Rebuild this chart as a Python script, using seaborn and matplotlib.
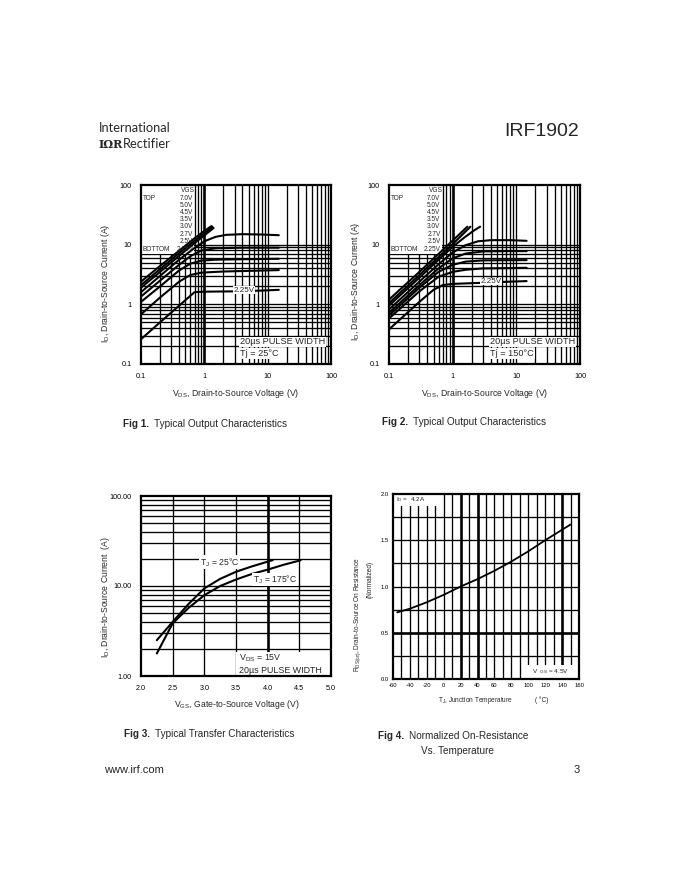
import numpy as np
import pandas as pd
import matplotlib
matplotlib.use("Agg")
import matplotlib.pyplot as plt
import seaborn as sns
from matplotlib.patches import Rectangle

sns.set_style("white")
plt.rcParams['font.family'] = ['Liberation Sans', 'DejaVu Sans']
plt.rcParams['mathtext.fontset'] = 'custom'
plt.rcParams['mathtext.rm'] = 'Liberation Sans'
plt.rcParams['mathtext.it'] = 'Liberation Sans:italic'
plt.rcParams['mathtext.bf'] = 'Liberation Sans:bold'

# ---------------- DATA ----------------
vgs_labels = ['7.0V', '5.0V', '4.5V', '3.5V', '3.0V', '2.7V', '2.5V', '2.25V']

# Fig 1, Tj = 25 C
f1_vds_70 = [0.1, 0.2, 0.4, 0.7, 1.0, 1.3]
f1_id_70 = [2.4, 4.4, 7.9, 12.8, 17.0, 20.5]
f1_vds_50 = [0.1, 0.2, 0.4, 0.7, 1.0, 1.35]
f1_id_50 = [2.1, 3.9, 7.2, 11.6, 15.6, 19.8]
f1_vds_45 = [0.1, 0.2, 0.4, 0.7, 1.0, 1.4]
f1_id_45 = [1.9, 3.5, 6.5, 10.6, 14.3, 19.0]
f1_vds_35 = [0.1, 0.2, 0.4, 0.7, 1.0, 1.5, 2.2, 4.0, 8.0, 15.0]
f1_id_35 = [1.6, 3.0, 5.6, 8.8, 11.4, 13.5, 14.6, 15.0, 14.8, 14.4]
f1_vds_30 = [0.1, 0.2, 0.4, 0.6, 0.9, 1.5, 4.0, 15.0]
f1_id_30 = [1.35, 2.5, 4.6, 6.4, 8.0, 8.7, 8.9, 8.9]
f1_vds_27 = [0.1, 0.2, 0.4, 0.6, 0.9, 1.5, 4.0, 15.0]
f1_id_27 = [1.1, 2.0, 3.7, 4.8, 5.4, 5.6, 5.7, 5.8]
f1_vds_25 = [0.1, 0.2, 0.4, 0.6, 0.9, 2.0, 6.0, 15.0]
f1_id_25 = [0.68, 1.3, 2.4, 3.1, 3.4, 3.55, 3.65, 3.75]
f1_vds_225 = [0.1, 0.2, 0.4, 0.7, 1.0, 3.0, 8.0, 15.0]
f1_id_225 = [0.26, 0.5, 0.95, 1.6, 1.63, 1.65, 1.7, 1.75]

# Fig 2, Tj = 150 C
f2_vds_70 = [0.1, 0.3, 0.6, 1.0, 1.7]
f2_id_70 = [1.2, 3.5, 7.0, 11.7, 20.0]
f2_vds_50 = [0.1, 0.3, 0.6, 1.0, 1.9]
f2_id_50 = [1.05, 3.1, 6.2, 10.2, 20.0]
f2_vds_45 = [0.1, 0.3, 0.6, 1.0, 1.5, 2.2, 2.7]
f2_id_45 = [0.95, 2.8, 5.6, 9.2, 13.0, 17.5, 20.0]
f2_vds_35 = [0.1, 0.3, 0.6, 1.0, 1.6, 2.5, 4.0, 8.0, 14.5]
f2_id_35 = [0.82, 2.4, 4.7, 7.4, 9.8, 11.4, 11.9, 11.9, 11.6]
f2_vds_30 = [0.1, 0.3, 0.6, 1.0, 1.6, 3.0, 8.0, 14.5]
f2_id_30 = [0.72, 2.1, 4.0, 5.9, 7.1, 7.7, 7.8, 7.8]
f2_vds_27 = [0.1, 0.3, 0.6, 1.0, 1.6, 3.0, 8.0, 14.5]
f2_id_27 = [0.65, 1.9, 3.5, 4.6, 5.2, 5.45, 5.5, 5.5]
f2_vds_25 = [0.1, 0.3, 0.6, 1.0, 1.6, 3.0, 8.0, 14.5]
f2_id_25 = [0.58, 1.65, 2.9, 3.5, 3.8, 4.0, 4.05, 4.1]
f2_vds_225 = [0.1, 0.3, 0.5, 0.7, 1.0, 3.0, 8.0, 14.5]
f2_id_225 = [0.38, 1.1, 1.75, 2.1, 2.2, 2.3, 2.4, 2.45]

# Fig 3, transfer characteristics
f3_vgs_25 = [2.25, 2.5, 2.75, 3.0, 3.25, 3.5, 3.75, 4.08]
f3_id_25 = [2.5, 4.0, 6.3, 9.4, 12.0, 14.4, 16.5, 19.4]
f3_vgs_175 = [2.25, 2.5, 2.75, 3.0, 3.25, 3.5, 3.75, 4.0, 4.25, 4.52]
f3_id_175 = [1.78, 3.85, 5.7, 7.9, 10.0, 11.8, 13.6, 15.2, 17.2, 19.3]

# Fig 4, normalized RDS(on) vs temperature
f4_tj = [-55, -40, -20, 0, 20, 40, 60, 80, 100, 120, 150]
f4_rds = [0.72, 0.76, 0.83, 0.91, 1.0, 1.08, 1.17, 1.27, 1.38, 1.5, 1.67]

log_ticks = [0.1, 1, 10, 100]
log_tick_labels = ['0.1', '1', '10', '100']
f3_xticks = [2.0, 2.5, 3.0, 3.5, 4.0, 4.5, 5.0]
f3_xtick_labels = ['2.0', '2.5', '3.0', '3.5', '4.0', '4.5', '5.0']
f3_yticks = [1, 10, 100]
f3_ytick_labels = ['1.00', '10.00', '100.00']
f4_xticks = [-60, -40, -20, 0, 20, 40, 60, 80, 100, 120, 140, 160]
f4_yticks = [0.0, 0.5, 1.0, 1.5, 2.0]

# ---------------- FRAMES ----------------
def frame(xs_list, ys_list, labels, xname, yname):
    parts = []
    for xs, ys, lab in zip(xs_list, ys_list, labels):
        parts.append(pd.DataFrame({xname: xs, yname: ys, 'curve': lab}))
    return pd.concat(parts, ignore_index=True)

df1 = frame([f1_vds_70, f1_vds_50, f1_vds_45, f1_vds_35, f1_vds_30, f1_vds_27, f1_vds_25, f1_vds_225],
            [f1_id_70, f1_id_50, f1_id_45, f1_id_35, f1_id_30, f1_id_27, f1_id_25, f1_id_225],
            vgs_labels, 'vds', 'id')
df2 = frame([f2_vds_70, f2_vds_50, f2_vds_45, f2_vds_35, f2_vds_30, f2_vds_27, f2_vds_25, f2_vds_225],
            [f2_id_70, f2_id_50, f2_id_45, f2_id_35, f2_id_30, f2_id_27, f2_id_25, f2_id_225],
            vgs_labels, 'vds', 'id')
df3 = frame([f3_vgs_25, f3_vgs_175], [f3_id_25, f3_id_175], ['25', '175'], 'vgs', 'id')
df4 = pd.DataFrame({'tj': f4_tj, 'rds': f4_rds})

# ---------------- FIGURE ----------------
W, H = 680, 880
fig = plt.figure(figsize=(6.8, 8.8), dpi=100)

def px_axes(left, top, right, bottom):
    return fig.add_axes([left / W, 1 - bottom / H, (right - left) / W, (bottom - top) / H])

def ftext(x, y, s, **kw):
    fig.text(x / W, 1 - y / H, s, **kw)

GL = 0.95  # grid line width
TH = 1.9   # thick grid line width

def log_lines(lo, hi):
    vals = []
    for e in range(lo, hi):
        for k in range(1, 10):
            vals.append(k * 10.0 ** e)
    vals.append(10.0 ** hi)
    return vals

def style_axes(ax, fs, pad):
    for sp in ax.spines.values():
        sp.set_linewidth(1.6)
        sp.set_color('black')
        sp.set_zorder(6)
    ax.tick_params(which='both', length=0, labelsize=fs, pad=pad, colors='black')

def output_chart(ax, df, legend_right, title_x):
    ax.set_xscale('log')
    ax.set_yscale('log')
    ax.set_xlim(0.1, 100)
    ax.set_ylim(0.1, 100)
    for x in log_lines(-1, 2)[1:-1]:
        ax.axvline(x, color='black', lw=TH if x == 1 else GL, zorder=1)
    for y in log_lines(-1, 1)[1:]:
        ax.axhline(y, color='black', lw=GL, zorder=1)
    ax.add_patch(Rectangle((0, 0.615), legend_right + 0.005, 0.39, transform=ax.transAxes,
                           facecolor='white', edgecolor='none', zorder=2))
    sns.lineplot(data=df, x='vds', y='id', units='curve', estimator=None, color='black',
                 lw=1.5, ax=ax, legend=False, sort=False, zorder=3)
    ax.set_xticks(log_ticks)
    ax.set_xticklabels(log_tick_labels)
    ax.set_yticks(log_ticks)
    ax.set_yticklabels(log_tick_labels)
    ax.minorticks_off()
    ax.set_xlabel('')
    ax.set_ylabel('')
    style_axes(ax, 5.2, 6.5)
    fs = 4.7
    ax.text(legend_right + 0.01, 0.972, 'VGS', transform=ax.transAxes, ha='right', va='center', fontsize=fs, zorder=4)
    ax.text(0.01, 0.927, 'TOP', transform=ax.transAxes, ha='left', va='center', fontsize=fs, zorder=4)
    ax.text(0.01, 0.637, 'BOTTOM', transform=ax.transAxes, ha='left', va='center', fontsize=fs, zorder=4)
    ys = [0.927, 0.885, 0.849, 0.808, 0.766, 0.722, 0.682, 0.637]
    for lab, y in zip(vgs_labels, ys):
        ax.text(legend_right, y, lab, transform=ax.transAxes, ha='right', va='center', fontsize=fs, zorder=4)
    bb = dict(facecolor='white', edgecolor='none', pad=0.6)
    ax.text(title_x, 0.123, '20µs PULSE WIDTH', transform=ax.transAxes, ha='left', va='center',
            fontsize=6.6, zorder=5, bbox=bb)

ax1 = px_axes(141, 185, 331, 364)
output_chart(ax1, df1, 0.275, 0.52)
ax1.text(0.52, 0.06, 'Tj = 25°C', transform=ax1.transAxes, ha='left', va='center', fontsize=6.6,
         zorder=5, bbox=dict(facecolor='white', edgecolor='none', pad=0.6))
ax1.text(2.9, 1.72, '2.25V', ha='left', va='center', fontsize=5.8, zorder=5,
         bbox=dict(facecolor='white', edgecolor='none', pad=0.3))

ax2 = px_axes(389, 185, 580, 364)
output_chart(ax2, df2, 0.27, 0.53)
ax2.text(0.53, 0.06, 'Tj = 150°C', transform=ax2.transAxes, ha='left', va='center', fontsize=6.6,
         zorder=5, bbox=dict(facecolor='white', edgecolor='none', pad=0.6))
ax2.text(2.75, 2.42, '2.25V', ha='left', va='center', fontsize=5.8, zorder=5,
         bbox=dict(facecolor='white', edgecolor='none', pad=0.3))

# ---- Fig 3 ----
ax3 = px_axes(141, 496, 331, 676)
ax3.set_yscale('log')
ax3.set_xlim(2.0, 5.0)
ax3.set_ylim(1, 100)
for y in log_lines(0, 2)[1:-1]:
    ax3.axhline(y, color='black', lw=GL, zorder=1)
for x in f3_xticks[1:-1]:
    ax3.axvline(x, color='black', lw=TH if x == 4.0 else GL, zorder=1)
ax3.add_patch(Rectangle((0.5, 0), 0.5, 0.135, transform=ax3.transAxes, facecolor='white',
                        edgecolor='none', zorder=2))
sns.lineplot(data=df3, x='vgs', y='id', units='curve', estimator=None, color='black',
             lw=1.5, ax=ax3, legend=False, sort=False, zorder=3)
ax3.set_xticks(f3_xticks)
ax3.set_xticklabels(f3_xtick_labels)
ax3.set_yticks(f3_yticks)
ax3.set_yticklabels(f3_ytick_labels)
ax3.minorticks_off()
ax3.set_xlabel('')
ax3.set_ylabel('')
style_axes(ax3, 5.2, 6.5)
bb3 = dict(facecolor='white', edgecolor='none', pad=0.5)
ax3.text(2.93, 18.3, r'T$_\mathrm{J}$ = 25°C', ha='left', va='center', fontsize=6.2, zorder=5, bbox=bb3)
ax3.text(3.77, 11.8, r'T$_\mathrm{J}$ = 175°C', ha='left', va='center', fontsize=6.2, zorder=5, bbox=bb3)
ax3.text(0.515, 0.1, r'V$_\mathrm{DS}$ = 15V', transform=ax3.transAxes, ha='left', va='center', fontsize=6.4, zorder=5)
ax3.text(0.515, 0.033, '20µs PULSE WIDTH', transform=ax3.transAxes, ha='left', va='center', fontsize=6.4, zorder=5)

# ---- Fig 4 ----
ax4 = px_axes(393, 494, 579, 679)
ax4.set_xlim(-60, 160)
ax4.set_ylim(0, 2.0)
for y in [0.25, 0.5, 0.75, 1.0, 1.25, 1.5, 1.75]:
    ax4.axhline(y, color='black', lw=TH if y == 0.5 else GL, zorder=1)
for x in range(-50, 160, 10):
    ax4.axvline(x, color='black', lw=TH if x in (20, 40, 140) else GL, zorder=1)
ax4.add_patch(Rectangle((0, 0.935), 0.26, 0.07, transform=ax4.transAxes, facecolor='white',
                        edgecolor='none', zorder=2))
ax4.add_patch(Rectangle((0.715, 0), 0.285, 0.075, transform=ax4.transAxes, facecolor='white',
                        edgecolor='none', zorder=2))
sns.lineplot(data=df4, x='tj', y='rds', color='black', lw=1.3, ax=ax4, zorder=3)
ax4.set_xticks(f4_xticks)
ax4.set_xticklabels([str(v) for v in f4_xticks])
ax4.set_yticks(f4_yticks)
ax4.set_yticklabels(['%.1f' % v for v in f4_yticks])
ax4.set_xlabel('')
ax4.set_ylabel('')
style_axes(ax4, 4.2, 3)
ax4.text(0.015, 0.97, r'I$_\mathrm{D}$ =  4.2A', transform=ax4.transAxes, ha='left', va='center', fontsize=4.6, zorder=5)
ax4.text(0.75, 0.04, r'V  $_\mathrm{GS}$ = 4.5V', transform=ax4.transAxes, ha='left', va='center', fontsize=4.6, zorder=5)

# ---------------- AXIS LABELS ----------------
ylab = r'I$_\mathrm{D}$, Drain-to-Source Current (A)'
ftext(106, 283, ylab, rotation=90, ha='center', va='center', fontsize=6.2)
ftext(355, 281, ylab, rotation=90, ha='center', va='center', fontsize=6.2)
ftext(106, 597, r'I$_\mathrm{D}$, Drain-to-Source Current  (A)', rotation=90, ha='center', va='center', fontsize=6.2)
ftext(358, 615, r'R$_\mathrm{DS(on)}$, Drain-to-Source On Resistance', rotation=90, ha='center', va='center', fontsize=4.7)
ftext(370, 579, '(Normalized)', rotation=90, ha='center', va='center', fontsize=4.7)

xlab = r'V$_\mathrm{DS}$, Drain-to-Source Voltage (V)'
ftext(236, 393, xlab, ha='center', va='center', fontsize=6.2)
ftext(485, 393, xlab, ha='center', va='center', fontsize=6.2)
ftext(237, 704, r'V$_\mathrm{GS}$, Gate-to-Source Voltage (V)', ha='center', va='center', fontsize=6.2)
ftext(476, 700, r'T$_\mathrm{J}$, Junction Temperature', ha='center', va='center', fontsize=4.7)
ftext(542, 700, '( °C)', ha='center', va='center', fontsize=4.7)

# ---------------- CAPTIONS ----------------
def caption(x, y, num, rest):
    t = fig.text(x / W, 1 - y / H, num, ha='left', va='center', fontsize=7.2, fontweight='bold')
    fig.canvas.draw()
    bb = t.get_window_extent()
    fig.text((bb.x1 + 5) / W, 1 - y / H, rest, ha='left', va='center', fontsize=7.2)

caption(123, 424, 'Fig 1.', 'Typical Output Characteristics')
caption(382, 422, 'Fig 2.', 'Typical Output Characteristics')
caption(124, 734, 'Fig 3.', 'Typical Transfer Characteristics')
caption(378, 736, 'Fig 4.', 'Normalized On-Resistance')
ftext(421, 751, 'Vs. Temperature', ha='left', va='center', fontsize=7.2)

# ---------------- HEADER / FOOTER ----------------
ftext(99, 128, 'International', ha='left', va='center', fontsize=9.3, family=['Lato', 'DejaVu Sans'],
      fontweight='normal', color='#2a2a2a')
ftext(99, 144, 'IΩR', ha='left', va='center', fontsize=8, fontweight='bold', family=['DejaVu Serif'])
ftext(123, 144, 'Rectifier', ha='left', va='center', fontsize=9.3, family=['Lato', 'DejaVu Sans'],
      fontweight='normal', color='#2a2a2a')
ftext(579, 131, 'IRF1902', ha='right', va='center', fontsize=14)
ftext(104, 770, 'www.irf.com', ha='left', va='center', fontsize=8)
ftext(580, 770, '3', ha='right', va='center', fontsize=8)

fig.savefig('out.png', dpi=100, facecolor='white')
